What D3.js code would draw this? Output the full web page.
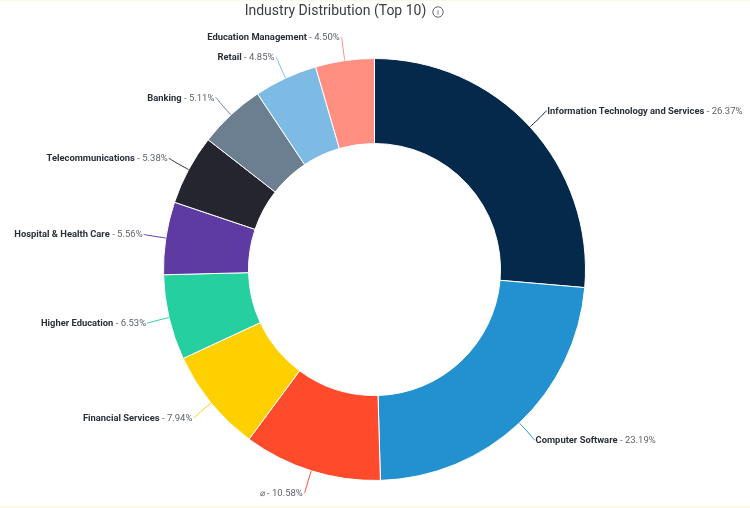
<!DOCTYPE html>
<html>
<head>
<meta charset="utf-8">
<style>
  html, body { margin: 0; padding: 0; background: #fff; }
  svg { display: block; filter: blur(0.35px); }
  text { font-family: Roboto, sans-serif; font-size: 9.5px; }
  .name { font-size: 9.4px; font-weight: 700; fill: #2b2f3a; }
  .name.empty { font-weight: 400; fill: #5f6368; }
  .pct { fill: #5f6368; }
  .title { font-size: 14px; fill: #3c4043; }
</style>
</head>
<body>
<div id="chart-area"></div>
<script src="https://d3js.org/d3.v7.min.js"></script>
<script>
  const categories = ["Information Technology and Services", "Computer Software", "\u2300", "Financial Services",
    "Higher Education", "Hospital & Health Care", "Telecommunications", "Banking", "Retail", "Education Management"];
  const shares = [26.37, 23.19, 10.58, 7.94, 6.53, 5.56, 5.38, 5.11, 4.85, 4.50];
  const colors = ["#05294b", "#2391d0", "#ff4a2b", "#ffd000", "#26cfa0",
    "#5e3aa3", "#25252f", "#6b7f90", "#7dbbe4", "#ff8f80"];

  const width = 750;
  const height = 508;
  const radius = 211;
  const innerRadius = 126;
  const labelRadius = radius + 21.5;
  const yStretch = 1.008; // the screenshot is a little taller than wide

  const svg = d3.select("#chart-area").append("svg")
    .attr("width", width)
    .attr("height", height);

  // pale strips at the top and bottom of the screenshot
  svg.append("rect").attr("width", width).attr("height", 1).attr("fill", "#fff8e1");
  svg.append("rect").attr("y", height - 2).attr("width", width).attr("height", 2).attr("fill", "#fff8e1");

  svg.append("text").attr("class", "title")
    .attr("x", 335.5).attr("y", 15).attr("text-anchor", "middle")
    .text("Industry Distribution (Top 10)");

  const info = svg.append("g").attr("transform", "translate(438,12)");
  info.append("circle").attr("r", 5.2).attr("fill", "none").attr("stroke", "#5f6368").attr("stroke-width", 1);
  info.append("text").attr("y", 3).attr("text-anchor", "middle").attr("fill", "#5f6368")
    .style("font-size", "8px").text("i");

  const g = svg.append("g").attr("transform", "translate(374.5,269.5)");

  const pie = d3.pie().value(d => d).sort(null);
  const arc = d3.arc().innerRadius(innerRadius).outerRadius(radius);
  const ring = r => d3.arc().innerRadius(r).outerRadius(r);
  const slices = pie(shares);

  g.selectAll("path.slice").data(slices).enter().append("path")
    .attr("class", "slice")
    .attr("d", arc)
    .attr("fill", (d, i) => colors[i])
    .attr("stroke", "#fff")
    .attr("stroke-width", 1);

  const connector = d3.line().curve(d3.curveBasis);
  const side = d => ((d.startAngle + d.endAngle) / 2 < Math.PI ? 1 : -1);
  const labelPoint = d => {
    const [x, y] = ring(labelRadius).centroid(d);
    return [x, y * yStretch];
  };

  g.selectAll("path.connector").data(slices).enter().append("path")
    .attr("class", "connector")
    .attr("fill", "none")
    .attr("stroke", (d, i) => colors[i])
    .attr("stroke-width", 1)
    .attr("d", d => {
      const end = labelPoint(d);
      return connector([
        ring(radius).centroid(d),
        ring(radius).centroid(d),
        ring(radius + 15).centroid(d),
        end,
        [end[0] + side(d), end[1]]
      ]);
    });

  const labels = g.selectAll("text.label").data(slices).enter().append("text")
    .attr("class", "label")
    .attr("x", d => labelPoint(d)[0] + (side(d) > 0 ? 1.5 : -2))
    .attr("y", d => labelPoint(d)[1])
    .attr("dy", "0.3em")
    .attr("text-anchor", d => (side(d) > 0 ? "start" : "end"));
  labels.append("tspan")
    .attr("class", (d, i) => (categories[i] === "\u2300" ? "name empty" : "name"))
    .text((d, i) => categories[i]);
  labels.append("tspan").attr("class", "pct").text(d => ` - ${d.value.toFixed(2)}%`);
</script>
</body>
</html>
